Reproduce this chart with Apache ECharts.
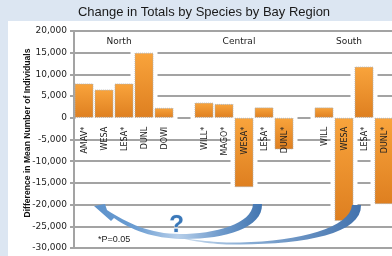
<!DOCTYPE html>
<html>
<head>
<meta charset="utf-8">
<script src="https://cdn.jsdelivr.net/npm/echarts@6/dist/echarts.min.js"></script>
<style>
  html, body { margin: 0; padding: 0; }
  #chart { width: 392px; height: 256px; }
</style>
</head>
<body>
<div id="chart"></div>
<script>
// 各海湾区域物种数量变化
const northSpecies = ["AMAV*", "WESA", "LESA*", "DUNL", "DOWI"];
const northValues = [7900, 6500, 7900, 15000, 2300];
const centralSpecies = ["WILL*", "MAGO*", "WESA*", "LESA*", "DUNL*"];
const centralValues = [3500, 3200, -16000, 2400, -7300];
const southSpecies = ["WILL", "WESA", "LESA*", "DUNL*"];
const southValues = [2400, -23800, 11800, -19900];
const regionNames = ["North", "Central", "South"];
const yMin = -30000;
const yMax = 20000;
const yStep = 5000;

// 区域之间空一个位置
const groups = [
  [northSpecies, northValues],
  [centralSpecies, centralValues],
  [southSpecies, southValues],
];
let categories = [];
let values = [];
let regionSpans = [];
groups.forEach((g, gi) => {
  if (gi > 0) {
    categories.push("");
    values.push(null);
  }
  regionSpans.push([categories.length, categories.length + g[0].length - 1]);
  categories = categories.concat(g[0]);
  values = values.concat(g[1]);
});

// 箭头用的贝塞尔采样
const cubic = (p0, p1, p2, p3, n = 16) => {
  const pts = [];
  for (let i = 0; i <= n; i++) {
    const t = i / n, u = 1 - t;
    pts.push([
      u * u * u * p0[0] + 3 * u * u * t * p1[0] + 3 * u * t * t * p2[0] + t * t * t * p3[0],
      u * u * u * p0[1] + 3 * u * u * t * p1[1] + 3 * u * t * t * p2[1] + t * t * t * p3[1],
    ]);
  }
  return pts;
};

const arrowA = [].concat(
  cubic([253, 204], [252, 224], [215, 234], [180, 234]),
  cubic([180, 234], [150, 234], [127, 223], [107, 210]),
  [[105, 204], [94, 206], [111, 221]],
  cubic([114, 218], [135, 233], [160, 239], [185, 239]),
  cubic([185, 239], [225, 239], [263, 228], [262, 204])
);
const arrowB = [].concat(
  cubic([352, 205], [350, 228], [300, 241], [240, 242.5]),
  cubic([240, 242.5], [215, 243], [195, 240], [172, 236]),
  cubic([172, 236], [195, 242], [215, 245], [240, 244.5]),
  cubic([240, 244.5], [305, 244], [362, 234], [361, 205])
);

const barColor = new echarts.graphic.LinearGradient(0, 0, 0, 1, [
  { offset: 0, color: "#f9a43c" },
  { offset: 1, color: "#de7f20" },
]);

const chart = echarts.init(document.getElementById("chart"));

const option = {
  animation: false,
  backgroundColor: "#dce6f2",
  grid: {
    left: 74,
    top: 31,
    width: 320,
    height: 217,
    containLabel: false,
    outerBoundsMode: "none",
  },
  graphic: [
    {
      type: "rect",
      z: -10,
      shape: { x: 8, y: 21, width: 400, height: 250 },
      style: { fill: "#ffffff" },
    },
    {
      type: "text",
      x: 204,
      y: 12.5,
      style: {
        text: "Change in Totals by Species by Bay Region",
        font: "13px 'Liberation Sans'",
        fill: "#1a1a1a",
        textAlign: "center",
        textVerticalAlign: "middle",
      },
    },
    {
      type: "text",
      x: 27.5,
      y: 133,
      rotation: Math.PI / 2,
      style: {
        text: "Difference in Mean Number of Individuals",
        font: "bold 8.6px 'Liberation Sans'",
        fill: "#111",
        textAlign: "center",
        textVerticalAlign: "middle",
      },
    },
    {
      type: "text",
      x: 98,
      y: 240,
      style: {
        text: "*P=0.05",
        font: "9px 'Liberation Sans'",
        fill: "#222",
        textVerticalAlign: "middle",
      },
    },
    {
      type: "polygon",
      z: 20,
      shape: { points: arrowB },
      style: {
        fill: {
          type: "linear", x: 0, y: 0, x2: 1, y2: 0,
          colorStops: [
            { offset: 0, color: "#d6e4f2" },
            { offset: 0.35, color: "#8fb2d8" },
            { offset: 1, color: "#4272ad" },
          ],
        },
      },
    },
    {
      type: "polygon",
      z: 21,
      shape: { points: arrowA },
      style: {
        fill: {
          type: "linear", x: 0, y: 0, x2: 1, y2: 0,
          colorStops: [
            { offset: 0, color: "#5d92cb" },
            { offset: 0.25, color: "#6b9dd2" },
            { offset: 0.5, color: "#b7cfea" },
            { offset: 0.75, color: "#6f9bcc" },
            { offset: 1, color: "#4275b0" },
          ],
        },
      },
    },
    {
      type: "text",
      z: 22,
      x: 176.5,
      y: 225,
      style: {
        text: "?",
        font: "bold 24px 'Liberation Sans'",
        fill: "#3a78b9",
        stroke: "#e3ecf6",
        lineWidth: 1,
        textAlign: "center",
        textVerticalAlign: "middle",
      },
    },
  ],
  xAxis: {
    type: "category",
    data: categories,
    axisLine: { show: false },
    axisTick: { show: false },
    axisLabel: { show: false },
    splitLine: { show: false },
  },
  yAxis: {
    type: "value",
    min: yMin,
    max: yMax,
    interval: yStep,
    axisLine: { show: true, lineStyle: { color: "#a3a3a3", width: 2 } },
    axisTick: { show: true, length: 4, lineStyle: { color: "#a3a3a3", width: 2 } },
    axisLabel: {
      margin: 7,
      fontSize: 9,
      fontFamily: "DejaVu Sans",
      color: "#222",
      formatter: (v) => v.toLocaleString("en-US"),
    },
    splitLine: { show: true, lineStyle: { color: "#a3a3a3", width: 2 } },
  },
  series: [
    {
      // 柱子周围的白边，挡住网格线
      type: "custom",
      z: 2,
      silent: true,
      data: values.map((v, i) => [i, v]),
      renderItem: function (params, api) {
        const v = api.value(1);
        if (v == null || isNaN(v)) return;
        const base = api.coord([api.value(0), 0]);
        const end = api.coord([api.value(0), v]);
        const w = api.size([1, 0])[0] * 0.95 + 8;
        const x2 = base[0] + w / 2;
        const x = Math.max(base[0] - w / 2, params.coordSys.x + 1.5);
        return {
          type: "rect",
          shape: {
            x: x,
            y: Math.min(base[1], end[1]) - 4,
            width: x2 - x,
            height: Math.abs(end[1] - base[1]) + 8,
          },
          style: { fill: "#ffffff" },
        };
      },
    },
    {
      name: "Difference",
      type: "bar",
      z: 3,
      barWidth: 19,
      data: values,
      itemStyle: {
        color: barColor,
        borderColor: "#b0b0b0",
        borderWidth: 1,
        borderType: "dotted",
      },
      markArea: {
        silent: true,
        itemStyle: { color: "rgba(0,0,0,0)" },
        label: {
          show: true,
          position: "insideTop",
          distance: 6,
          fontSize: 9,
          fontFamily: "DejaVu Sans",
          color: "#222",
        },
        data: regionSpans.map((s, i) => [
          { name: regionNames[i], xAxis: s[0] },
          { xAxis: s[1] },
        ]),
      },
    },
    {
      // 物种名，竖排在零线下方
      type: "custom",
      z: 10,
      silent: true,
      data: categories.map((c, i) => [i, 0]),
      renderItem: function (params, api) {
        const name = categories[params.dataIndex];
        if (!name) return;
        const p = api.coord([api.value(0), 0]);
        return {
          type: "text",
          x: p[0] + 0.5,
          y: p[1] + 9,
          rotation: Math.PI / 2,
          style: {
            text: name,
            font: "8px 'DejaVu Sans'",
            fill: "#222",
            textAlign: "right",
            textVerticalAlign: "middle",
          },
        };
      },
    },
  ],
};

chart.setOption(option);
</script>
</body>
</html>
